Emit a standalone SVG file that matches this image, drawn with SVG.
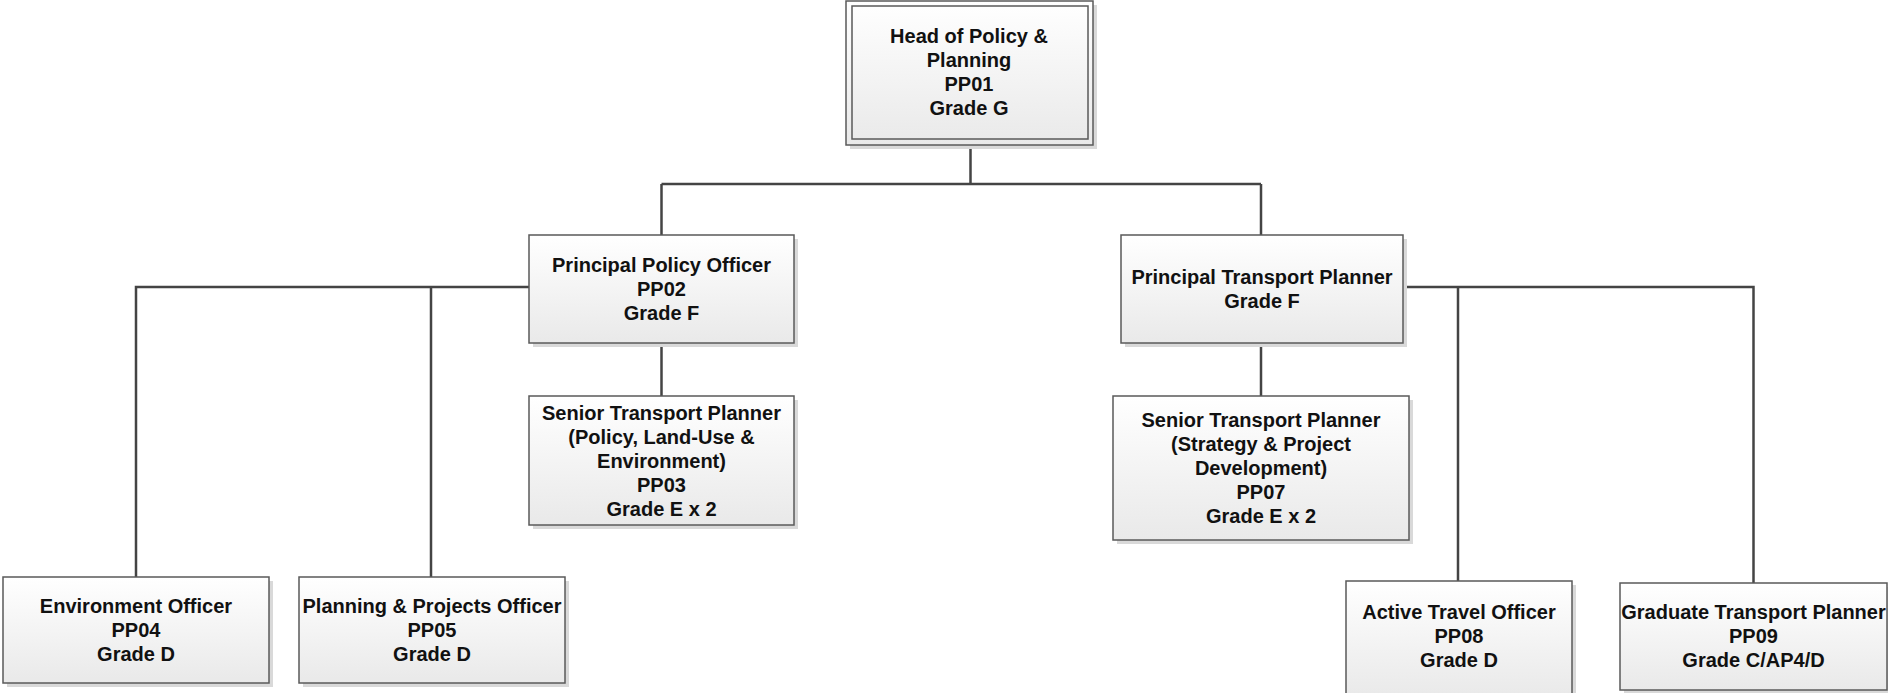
<svg xmlns="http://www.w3.org/2000/svg" width="1888" height="693" viewBox="0 0 1888 693">
<defs>
<linearGradient id="g" x1="0" y1="0" x2="0" y2="1">
<stop offset="0" stop-color="#ffffff"/>
<stop offset="1" stop-color="#e9e9e9"/>
</linearGradient>
<style>
.box{fill:url(#g);stroke:#5a5a5a;stroke-width:1.5}
.sh{fill:#d9d9d9}
.inner{fill:none;stroke:#5a5a5a;stroke-width:1.5}
.t{font-family:"Liberation Sans",Arial,sans-serif;font-weight:bold;font-size:20px;fill:#111;text-anchor:middle}
.c{fill:none;stroke:#444;stroke-width:2.5}
</style>
</defs>
<rect width="1888" height="693" fill="#fff"/>
<g id="connectors">
<path class="c" d="M970.5,145 V184 M661.5,184 H1261 M661.5,184 V235 M1261,184 V235 M661.5,343 V396 M1261,343 V396 M529,287 H136 V577 M431,287 V577 M1403,287 H1753.5 V583 M1458,287 V581"/>
</g>
<g id="PP01">
<rect class="sh" x="850" y="5" width="247" height="144"/>
<rect class="box" x="846" y="1" width="247" height="144"/>
<rect class="inner" x="852" y="6" width="236" height="133"/>
<text class="t"><tspan x="969" y="43">Head of Policy &amp;</tspan><tspan x="969" y="67">Planning</tspan><tspan x="969" y="91">PP01</tspan><tspan x="969" y="115">Grade G</tspan></text>
</g>
<g id="PP02">
<rect class="sh" x="533" y="239" width="265" height="108"/>
<rect class="box" x="529" y="235" width="265" height="108"/>
<text class="t"><tspan x="661.5" y="272">Principal Policy Officer</tspan><tspan x="661.5" y="296">PP02</tspan><tspan x="661.5" y="320">Grade F</tspan></text>
</g>
<g id="PTP">
<rect class="sh" x="1125" y="239" width="282" height="108"/>
<rect class="box" x="1121" y="235" width="282" height="108"/>
<text class="t"><tspan x="1262" y="284">Principal Transport Planner</tspan><tspan x="1262" y="308">Grade F</tspan></text>
</g>
<g id="PP03">
<rect class="sh" x="533" y="400" width="265" height="129"/>
<rect class="box" x="529" y="396" width="265" height="129"/>
<text class="t"><tspan x="661.5" y="419.5">Senior Transport Planner</tspan><tspan x="661.5" y="443.5">(Policy, Land-Use &amp;</tspan><tspan x="661.5" y="467.5">Environment)</tspan><tspan x="661.5" y="491.5">PP03</tspan><tspan x="661.5" y="515.5">Grade E x 2</tspan></text>
</g>
<g id="PP07">
<rect class="sh" x="1117" y="400" width="296" height="144"/>
<rect class="box" x="1113" y="396" width="296" height="144"/>
<text class="t"><tspan x="1261" y="427">Senior Transport Planner</tspan><tspan x="1261" y="451">(Strategy &amp; Project</tspan><tspan x="1261" y="475">Development)</tspan><tspan x="1261" y="499">PP07</tspan><tspan x="1261" y="523">Grade E x 2</tspan></text>
</g>
<g id="PP04">
<rect class="sh" x="7" y="581" width="266" height="106"/>
<rect class="box" x="3" y="577" width="266" height="106"/>
<text class="t"><tspan x="136" y="613">Environment Officer</tspan><tspan x="136" y="637">PP04</tspan><tspan x="136" y="661">Grade D</tspan></text>
</g>
<g id="PP05">
<rect class="sh" x="303" y="581" width="266" height="106"/>
<rect class="box" x="299" y="577" width="266" height="106"/>
<text class="t"><tspan x="432" y="613">Planning &amp; Projects Officer</tspan><tspan x="432" y="637">PP05</tspan><tspan x="432" y="661">Grade D</tspan></text>
</g>
<g id="PP08">
<rect class="sh" x="1350" y="585" width="226" height="116"/>
<rect class="box" x="1346" y="581" width="226" height="116"/>
<text class="t"><tspan x="1459" y="619">Active Travel Officer</tspan><tspan x="1459" y="643">PP08</tspan><tspan x="1459" y="667">Grade D</tspan></text>
</g>
<g id="PP09">
<rect class="sh" x="1624" y="587" width="267" height="107"/>
<rect class="box" x="1620" y="583" width="267" height="107"/>
<text class="t"><tspan x="1753.5" y="619">Graduate Transport Planner</tspan><tspan x="1753.5" y="643">PP09</tspan><tspan x="1753.5" y="667">Grade C/AP4/D</tspan></text>
</g>
</svg>
